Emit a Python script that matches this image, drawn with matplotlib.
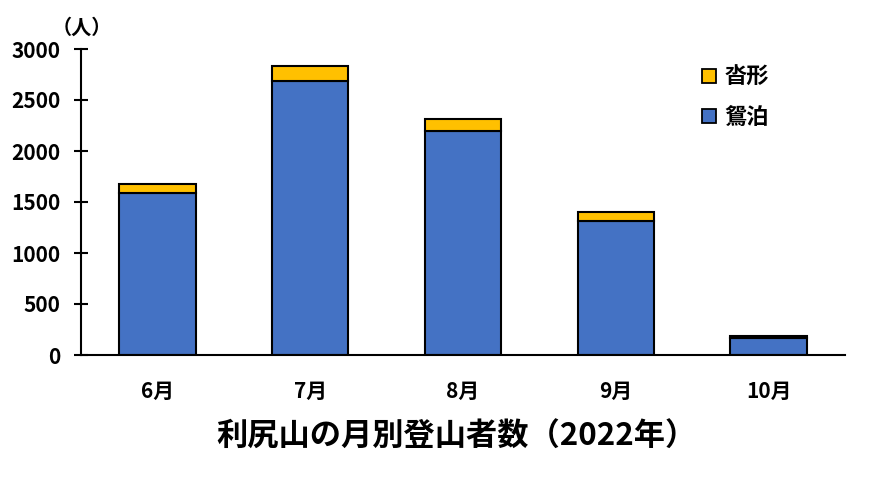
import matplotlib
matplotlib.use("Agg")
import matplotlib.pyplot as plt
from matplotlib.lines import Line2D

plt.rcParams['font.family'] = ['Noto Sans CJK JP', 'DejaVu Sans']

months = ["6月", "7月", "8月", "9月", "10月"]
oshidomari = [1590, 2690, 2200, 1310, 168]
kutsugata = [90, 140, 110, 90, 22]
series_names = ["鴛泊", "沓形"]
yticks = [0, 500, 1000, 1500, 2000, 2500, 3000]

blue = "#4472C4"
yellow = "#FFC000"

fig = plt.figure(figsize=(8.75, 4.87), dpi=100)
ax = fig.add_axes([81/875, 1-355/487, (845-81)/875, (355-49)/487])

x = range(len(months))
ax.bar(x, oshidomari, width=0.5, color=blue, edgecolor="black", linewidth=1.5, zorder=2)
ax.bar(x, kutsugata, width=0.5, bottom=oshidomari, color=yellow, edgecolor="black", linewidth=1.5, zorder=2)

ax.set_xlim(-0.5, len(months) - 0.5)
ax.set_ylim(0, 3000)
ax.set_yticks(yticks)
ax.set_yticklabels([str(v) for v in yticks], fontsize=15, fontweight="bold")
ax.set_xticks(list(x))
ax.set_xticklabels(months, fontsize=15, fontweight="bold")
ax.tick_params(axis="x", length=0, pad=19)
ax.tick_params(axis="y", direction="inout", length=10, width=1.5, pad=10)
for s in ["top", "right"]:
    ax.spines[s].set_visible(False)
ax.spines["left"].set_linewidth(1.5)
ax.spines["bottom"].set_linewidth(1.5)

fig.text(82/875, 1-27/487, "（人）", ha="center", va="center", fontsize=14.5, fontweight="bold")
fig.text(456/875, 1-437/487, "利尻山の月別登山者数（2022年）", ha="center", va="center",
         fontsize=22.5, fontweight="bold")

handles = [
    Line2D([], [], marker="s", linestyle="none", markersize=10, markerfacecolor=yellow,
           markeredgecolor="black", markeredgewidth=1.3),
    Line2D([], [], marker="s", linestyle="none", markersize=10, markerfacecolor=blue,
           markeredgecolor="black", markeredgewidth=1.3),
]
leg = fig.legend(handles, [series_names[1], series_names[0]], loc="upper left",
                 bbox_to_anchor=(678/875, 1-46/487), frameon=False,
                 prop={"size": 16, "weight": "bold"}, labelspacing=0.75,
                 handletextpad=0.2, handlelength=1.0)

fig.savefig("out.png", dpi=100)
